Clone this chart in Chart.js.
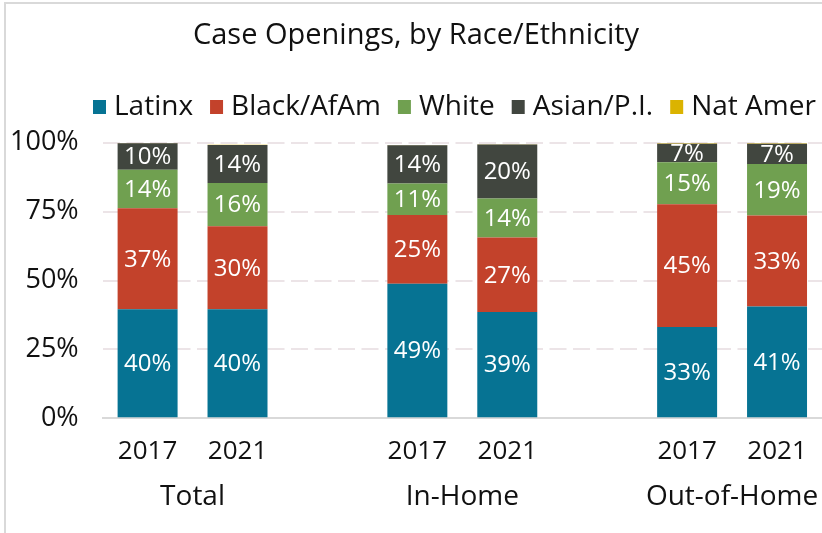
<!DOCTYPE html>
<html>
<head>
<meta charset="utf-8">
<script src="https://cdn.jsdelivr.net/npm/chart.js@4.4.1/dist/chart.umd.min.js"></script>
<style>
  html, body { margin: 0; padding: 0; background: #fff; overflow: hidden; }
  #frame { position: absolute; left: 4px; top: 2px; width: 1000px; height: 1000px;
           border-left: 2px solid #d9d9d9; border-top: 2px solid #d9d9d9; }
  #wrap { position: absolute; left: 0; top: 0; width: 822px; height: 533px; }
</style>
</head>
<body>
<div id="frame"></div>
<div id="wrap"><canvas id="chart"></canvas></div>
<script>
// ===== Data =====
const groups = ["Total", "In-Home", "Out-of-Home"];
const years = ["2017", "2021"];
const races = ["Latinx", "Black/AfAm", "White", "Asian/P.I.", "Nat Amer"];
const colors = ["#067393", "#c3422b", "#70a050", "#41463f", "#dbb300"];

// % of case openings; order: Total 2017, Total 2021, In-Home 2017, In-Home 2021, Out-of-Home 2017, Out-of-Home 2021
const latinx    = [39.6, 39.6, 48.8, 38.6, 33.1, 40.6];
const blackAfAm = [36.6, 30.1, 25.0, 27.0, 44.6, 33.0];
const white     = [14.0, 15.7, 11.4, 14.2, 15.2, 18.7];
const asianPI   = [9.6, 13.8, 13.9, 19.6, 6.8, 7.4];
const natAmer   = [0.1, 0.1, 0.1, 0.1, 0.1, 0.1];

const yTicks = [0, 25, 50, 75, 100];

// ===== Build slots (2 years per group, empty slot between groups) =====
const labels = [];
const slotOf = [];
groups.forEach((g, gi) => {
  years.forEach((y, yi) => { labels.push(y); slotOf.push(gi * years.length + yi); });
  if (gi < groups.length - 1) { labels.push(""); slotOf.push(null); }
});
const toSlots = arr => slotOf.map(i => (i === null ? null : arr[i]));
const groupCenters = groups.map((g, gi) => gi * (years.length + 1) + (years.length - 1) / 2);

const seriesValues = [latinx, blackAfAm, white, asianPI, natAmer];

// chart.js counts tick padding twice when sizing an axis; keep it once
const trimHeight = axis => { axis.height -= axis.options.ticks.padding; axis.paddingLeft = 0; axis.paddingRight = 0; };
const trimWidth = axis => { axis.width -= axis.options.ticks.padding; };

// ===== Plugins =====
// white % labels inside each segment
const barLabels = {
  id: "barLabels",
  afterDatasetsDraw(chart) {
    const ctx = chart.ctx;
    ctx.save();
    ctx.font = "24px 'Open Sans'";
    ctx.fillStyle = "#ffffff";
    ctx.textAlign = "center";
    ctx.textBaseline = "middle";
    chart.data.datasets.forEach((ds, di) => {
      chart.getDatasetMeta(di).data.forEach((bar, i) => {
        const v = ds.data[i];
        if (v == null || v < 2) return;
        const p = bar.getCenterPoint();
        ctx.fillText(Math.round(v) + "%", p.x, p.y + 1);
      });
    });
    ctx.restore();
  }
};

// legend row, left aligned and allowed to run off the right edge
const topLegend = {
  id: "topLegend",
  afterDraw(chart) {
    const ctx = chart.ctx;
    ctx.save();
    ctx.font = "28px 'Open Sans'";
    ctx.textBaseline = "middle";
    let x = 93;
    const y = 107;
    chart.data.datasets.forEach(ds => {
      ctx.fillStyle = ds.backgroundColor;
      ctx.fillRect(x, y - 7, 13, 14);
      x += 13 + 8;
      ctx.fillStyle = "#111111";
      ctx.fillText(ds.label, x, y);
      x += ctx.measureText(ds.label).width + 17;
    });
    ctx.restore();
  }
};

// ===== Chart =====
const ctx = document.getElementById("chart").getContext("2d");
new Chart(ctx, {
  type: "bar",
  data: {
    labels: labels,
    datasets: races.map((r, i) => ({
      label: r,
      data: toSlots(seriesValues[i]),
      backgroundColor: colors[i],
      borderWidth: 0,
      barPercentage: 0.667,
      categoryPercentage: 1.0
    }))
  },
  options: {
    responsive: true,
    maintainAspectRatio: false,
    animation: false,
    layout: { padding: { left: 10, right: 0, top: 0, bottom: 19 } },
    plugins: {
      legend: { display: false },
      tooltip: { enabled: false },
      title: {
        display: true,
        text: "Case Openings, by Race/Ethnicity",
        color: "#111111",
        font: { family: "'Open Sans'", size: 29, weight: "normal" },
        padding: { top: 18, bottom: 90 }
      }
    },
    scales: {
      x: {
        stacked: true,
        grid: { display: false, drawTicks: false },
        border: { display: true, color: "#d9d9d9", width: 2 },
        afterFit: trimHeight,
        ticks: {
          color: "#111111",
          font: { family: "'Open Sans'", size: 26 },
          padding: 18,
          maxRotation: 0,
          autoSkip: false
        }
      },
      x2: {
        type: "linear",
        position: "bottom",
        weight: 1,
        offset: false,
        min: -0.5,
        max: labels.length - 0.5,
        grid: { display: false, drawTicks: false, offset: false },
        border: { display: false },
        afterBuildTicks: axis => { axis.ticks = groupCenters.map(v => ({ value: v })); },
        afterFit: trimHeight,
        ticks: {
          color: "#111111",
          font: { family: "'Open Sans'", size: 28 },
          padding: 13,
          maxRotation: 0,
          autoSkip: false,
          callback: v => groups[groupCenters.indexOf(v)]
        }
      },
      y: {
        stacked: true,
        min: yTicks[0],
        max: yTicks[yTicks.length - 1],
        afterBuildTicks: axis => { axis.ticks = yTicks.map(v => ({ value: v })); },
        afterFit: trimWidth,
        grid: {
          color: c => (c.tick && c.tick.value === 0 ? "rgba(0,0,0,0)" : "#ece4e7"),
          lineWidth: 2,
          drawTicks: false
        },
        border: { display: false, dash: [17, 6.5] },
        ticks: {
          color: "#111111",
          font: { family: "'Open Sans'", size: 27 },
          padding: 24,
          callback: v => v + "%"
        }
      }
    }
  },
  plugins: [barLabels, topLegend]
});
</script>
</body>
</html>
